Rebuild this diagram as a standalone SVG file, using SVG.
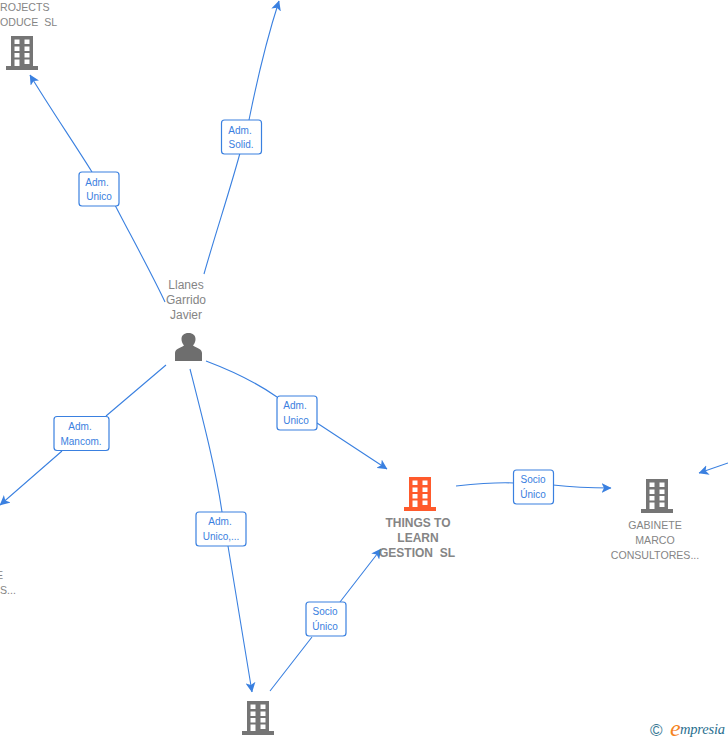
<svg xmlns="http://www.w3.org/2000/svg" width="728" height="740" viewBox="0 0 728 740">
<style>
text{font-family:"Liberation Sans",Arial,sans-serif}
.n{font-size:12px;fill:#858585;text-anchor:middle}
.c{font-size:10.600px;fill:#858585;text-anchor:middle}
.cs{font-size:10.600px;fill:#858585}
.b{font-weight:bold}
.l{font-size:10px;fill:#3a80e0;text-anchor:middle}
.e{fill:none;stroke:#3a80e0;stroke-width:1.1}
.lb{fill:#fff;stroke:#3a80e0;stroke-width:1.2}
</style>
<defs>
<marker id="a" viewBox="0 0 10 10" refX="9.500" refY="5" markerWidth="10" markerHeight="10" markerUnits="userSpaceOnUse" orient="auto"><path d="M0 0L10 5L0 10L2.500 5Z" fill="#3a80e0"/></marker>
<g id="bld"><path d="M5 0H27V30H32V34H0V30H5ZM8.500 3.500V8H13.500V3.500ZM18.500 3.500V8H23.500V3.500ZM8.500 10.500V15H13.500V10.500ZM18.500 10.500V15H23.500V10.500ZM8.500 17V21.500H13.500V17ZM18.500 17V21.500H23.500V17ZM8.500 23.500V30H13.500V23.500ZM18.500 23.500V28H23.500V23.500Z" fill-rule="evenodd"/></g>
</defs>
<rect width="728" height="740" fill="#fff"/>
<g id="connectors">
<path class="e" marker-end="url(#a)" d="M165 302C150 270 125 225 115 205M92 172C72 140 50 108 30 75"/>
<path class="e" marker-end="url(#a)" d="M204 274C215 235 230 190 240 153M249 120C256 85 268 35 279 1"/>
<path class="e" marker-end="url(#a)" d="M166 365L106 416M62 451L0 505"/>
<path class="e" marker-end="url(#a)" d="M190 369C203 420 216 470 222 512M228 546L252 692"/>
<path class="e" marker-end="url(#a)" d="M206 361C235 372 260 385 277 397M317 423L387 469"/>
<path class="e" marker-end="url(#a)" d="M270 691L312 637M340 602L381 549"/>
<path class="e" marker-end="url(#a)" d="M456 486C475 484 495 482 514 483M553 485C570 487 590 488 611 488"/>
<path class="e" marker-end="url(#a)" d="M728 463L699 473"/>
</g>
<g id="node-projects"><text class="cs" x="0" y="11">ROJECTS</text><text class="cs" x="0" y="26" xml:space="preserve">ODUCE  SL</text><use href="#bld" x="6" y="36" fill="#757575"/></g>
<g id="node-llanes"><text class="n" x="186" y="289">Llanes</text><text class="n" x="186" y="304">Garrido</text><text class="n" x="186" y="319">Javier</text>
<path fill="#6e6e6e" d="M175 361V353C175 349 180 348 184 345.500C182 343 181.500 341 181.500 339C181.500 335.500 184 333 188.500 333C193 333 195.500 335.500 195.500 339C195.500 341 195 343 193 345.500C197 348 202 349 202 353V361Z"/></g>
<g id="node-things"><use href="#bld" x="404" y="477" fill="#ff5a2c"/><text class="n b" x="418" y="527">THINGS TO</text><text class="n b" x="418" y="542">LEARN</text><text class="n b" x="417" y="557" xml:space="preserve">GESTION  SL</text></g>
<g id="node-gabinete"><use href="#bld" x="641" y="479" fill="#757575"/><text class="c" x="655" y="529">GABINETE</text><text class="c" x="655" y="544">MARCO</text><text class="c" x="655" y="559">CONSULTORES...</text></g>
<g id="node-left"><text class="cs" x="-4" y="579">E</text><text class="cs" x="0" y="594">S...</text></g>
<g id="node-bottom"><use href="#bld" x="242" y="701" fill="#757575"/></g>
<g id="label-1"><rect class="lb" x="79" y="172" width="40" height="34" rx="3"/><text class="l" x="97" y="186">Adm.</text><text class="l" x="99" y="200">Unico</text></g>
<g id="label-2"><rect class="lb" x="221.500" y="120" width="40" height="34" rx="3"/><text class="l" x="240" y="134">Adm.</text><text class="l" x="241" y="148">Solid.</text></g>
<g id="label-3"><rect class="lb" x="54" y="416.500" width="55" height="34" rx="3"/><text class="l" x="80" y="430">Adm.</text><text class="l" x="81" y="445">Mancom.</text></g>
<g id="label-4"><rect class="lb" x="196" y="512" width="50" height="34" rx="3"/><text class="l" x="220" y="525">Adm.</text><text class="l" x="221" y="540">Unico,...</text></g>
<g id="label-5"><rect class="lb" x="277" y="396" width="40" height="34" rx="3"/><text class="l" x="295" y="409">Adm.</text><text class="l" x="296" y="424">Unico</text></g>
<g id="label-6"><rect class="lb" x="306" y="602" width="40" height="34" rx="3"/><text class="l" x="325" y="615">Socio</text><text class="l" x="325" y="630">Único</text></g>
<g id="label-7"><rect class="lb" x="513.500" y="470" width="40" height="34" rx="3"/><text class="l" x="533" y="483">Socio</text><text class="l" x="533" y="498">Único</text></g>
<g id="logo"><text x="650" y="736" font-size="17" fill="#3a7a96">©</text><text x="670" y="736" font-size="24" font-style="italic" fill="#f5841f" style="font-family:'Liberation Serif',serif">e</text><text x="680" y="734" font-size="14.500" font-style="italic" fill="#2a6f8f" style="font-family:'Liberation Serif',serif" textLength="45">mpresia</text></g>
</svg>
